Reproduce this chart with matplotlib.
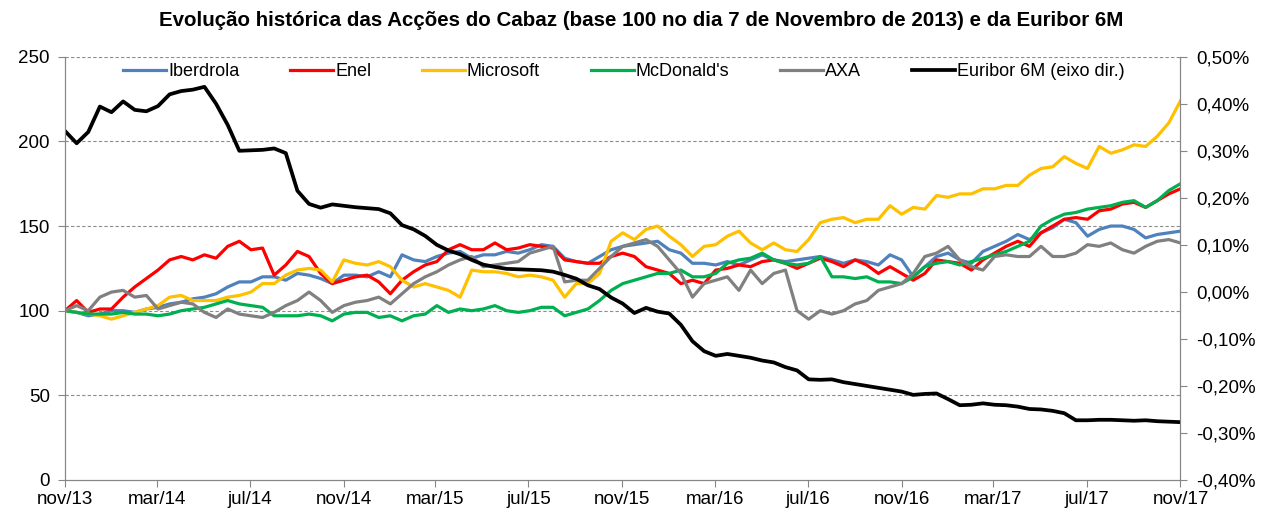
import numpy as np
import pandas as pd
import matplotlib
matplotlib.use("Agg")
import matplotlib.pyplot as plt
from matplotlib.ticker import FuncFormatter, FixedLocator

plt.rcParams['font.family'] = ['Liberation Sans', 'DejaVu Sans']

# ----------------- dados (de ~15 em ~15 dias) -----------------
data_inicio = '2013-11-07'
data_fim = '2017-11-07'

iberdrola = [100, 99, 97, 98, 100, 100, 99, 101, 102, 104, 105, 107, 108, 110, 114, 117, 117, 120, 120, 118,
             122, 121, 119, 116, 121, 121, 120, 123, 120, 133, 130, 129, 132, 134, 135, 131, 133, 133, 135, 134,
             136, 139, 138, 131, 129, 128, 132, 136, 138, 139, 140, 141, 136, 134, 128, 128, 127, 129, 127, 130,
             133, 130, 129, 130, 131, 132, 130, 128, 130, 129, 127, 133, 130, 120, 126, 132, 134, 130, 128, 135,
             138, 141, 145, 142, 146, 149, 154, 152, 144, 148, 150, 150, 148, 143, 145, 146, 147]

enel = [100, 106, 99, 101, 101, 108, 114, 119, 124, 130, 132, 130, 133, 131, 138, 141, 136, 137, 121, 127,
        135, 132, 122, 116, 118, 120, 121, 117, 110, 118, 123, 127, 129, 136, 139, 136, 136, 140, 136, 137,
        139, 138, 137, 130, 129, 128, 128, 132, 134, 132, 126, 124, 122, 116, 118, 116, 124, 125, 127, 126,
        129, 130, 128, 125, 128, 131, 129, 126, 130, 127, 122, 126, 122, 118, 122, 130, 129, 128, 124, 130,
        134, 138, 141, 138, 146, 150, 154, 155, 154, 159, 160, 163, 164, 161, 165, 169, 172]

microsoft = [100, 99, 98, 97, 95, 97, 99, 101, 103, 108, 109, 106, 106, 106, 108, 109, 111, 116, 116, 121,
             124, 125, 124, 117, 130, 128, 127, 129, 126, 118, 114, 116, 114, 112, 108, 124, 123, 123, 122, 120,
             121, 120, 118, 108, 116, 116, 122, 141, 146, 142, 148, 150, 144, 139, 132, 138, 139, 144, 147, 140,
             136, 140, 136, 135, 142, 152, 154, 155, 152, 154, 154, 162, 157, 161, 160, 168, 167, 169, 169, 172,
             172, 174, 174, 180, 184, 185, 191, 187, 184, 197, 193, 195, 198, 197, 203, 211, 224]

mcdonalds = [100, 99, 98, 98, 98, 99, 98, 98, 97, 98, 100, 101, 102, 104, 106, 104, 103, 102, 97, 97,
             97, 98, 97, 94, 98, 99, 99, 96, 97, 94, 97, 98, 103, 99, 101, 100, 101, 103, 100, 99,
             100, 102, 102, 97, 99, 101, 106, 112, 116, 118, 120, 122, 122, 124, 120, 120, 122, 128, 130, 131,
             134, 130, 128, 127, 128, 132, 120, 120, 119, 120, 117, 117, 116, 120, 126, 128, 129, 127, 129, 131,
             133, 135, 138, 141, 150, 154, 157, 158, 160, 161, 162, 164, 165, 161, 165, 171, 175]

axa = [100, 103, 100, 108, 111, 112, 108, 109, 101, 103, 105, 104, 99, 96, 101, 98, 97, 96, 99, 103,
       106, 111, 106, 99, 103, 105, 106, 108, 104, 110, 116, 120, 123, 127, 130, 132, 126, 127, 128, 129,
       134, 136, 138, 117, 118, 118, 125, 132, 138, 140, 142, 138, 130, 122, 108, 116, 118, 120, 112, 124,
       116, 122, 124, 100, 95, 100, 98, 100, 104, 106, 112, 114, 116, 122, 132, 134, 138, 130, 126, 124,
       132, 133, 132, 132, 138, 132, 132, 134, 139, 138, 140, 136, 134, 138, 141, 142, 140]

# Euribor 6M em %
euribor = [0.342, 0.316, 0.340, 0.394, 0.382, 0.405, 0.387, 0.384, 0.395, 0.420, 0.427, 0.430, 0.436, 0.400,
           0.355, 0.300, 0.301, 0.302, 0.305, 0.295, 0.215, 0.187, 0.179, 0.186, 0.183, 0.180, 0.178, 0.176,
           0.167, 0.142, 0.133, 0.119, 0.100, 0.088, 0.080, 0.068, 0.058, 0.053, 0.049, 0.048, 0.047, 0.046,
           0.043, 0.036, 0.028, 0.014, 0.006, -0.012, -0.025, -0.045, -0.034, -0.042, -0.046, -0.070, -0.105,
           -0.126, -0.136, -0.132, -0.136, -0.140, -0.146, -0.150, -0.160, -0.167, -0.186, -0.187, -0.186,
           -0.192, -0.196, -0.200, -0.204, -0.208, -0.212, -0.219, -0.217, -0.216, -0.228, -0.241, -0.240,
           -0.237, -0.240, -0.241, -0.244, -0.249, -0.250, -0.253, -0.258, -0.273, -0.273, -0.272, -0.272,
           -0.273, -0.274, -0.273, -0.275, -0.276, -0.277]

series = [('Iberdrola', iberdrola, '#4F81BD'),
          ('Enel', enel, '#FF0000'),
          ('Microsoft', microsoft, '#FFC000'),
          ("McDonald's", mcdonalds, '#00B050'),
          ('AXA', axa, '#808080')]

meses_pt = ['jan', 'fev', 'mar', 'abr', 'mai', 'jun', 'jul', 'ago', 'set', 'out', 'nov', 'dez']
titulo = 'Evolução histórica das Acções do Cabaz (base 100 no dia 7 de Novembro de 2013) e da Euribor 6M'
# -------------------------------------------------------------------------------

datas = pd.date_range(data_inicio, data_fim, periods=len(iberdrola))
ticks = [pd.Timestamp(data_inicio) + pd.DateOffset(months=4 * i) for i in range(13)]

fig = plt.figure(figsize=(12.65, 5.12), dpi=100)
ax = fig.add_axes([0.0514, 0.0625, 0.8818, 0.8267])
ax2 = ax.twinx()

linhas = []
for nome, valores, cor in series:
    l, = ax.plot(datas, valores, color=cor, linewidth=2.3, label=nome)
    linhas.append(l)
l, = ax2.plot(datas, euribor, color='black', linewidth=2.7, label='Euribor 6M (eixo dir.)')
linhas.append(l)

ax.set_xlim(ticks[0], ticks[-1])
ax.set_ylim(0, 250)
ax2.set_ylim(-0.40, 0.50)
ax.set_yticks(range(0, 251, 50))
ax2.set_yticks(np.arange(-0.40, 0.51, 0.10))
ax2.yaxis.set_major_formatter(FuncFormatter(lambda v, p: f'{v:.2f}%'.replace('.', ',').replace('-0,00', '0,00')))

ax.xaxis.set_major_locator(FixedLocator([matplotlib.dates.date2num(t) for t in ticks]))
ax.set_xticklabels([f'{meses_pt[t.month - 1]}/{t.strftime("%y")}' for t in ticks])

for y in range(50, 251, 50):
    ax.axhline(y, color='#8C8C8C', linestyle=(0, (3, 2)), linewidth=0.8, zorder=0)

cor_eixo = '#868686'
for a in (ax, ax2):
    a.spines['top'].set_visible(False)
    for s in ('left', 'right', 'bottom'):
        a.spines[s].set_color(cor_eixo)
    a.tick_params(colors=cor_eixo, labelcolor='black', labelsize=13.5, length=5, width=0.8)
ax.tick_params(axis='x', pad=3)
ax.tick_params(axis='y', pad=6)
ax2.tick_params(axis='y', pad=6)

fig.legend(handles=linhas, loc='center left', bbox_to_anchor=(123 / 1265, 1 - 71.7 / 512), ncol=6,
           frameon=False, fontsize=13, handlelength=2.4, handletextpad=0.1, columnspacing=2.8,
           borderpad=0, borderaxespad=0)

fig.suptitle(titulo, x=0.507, y=0.978, fontsize=14.8, fontweight='bold')

fig.savefig('out.png', dpi=100)
